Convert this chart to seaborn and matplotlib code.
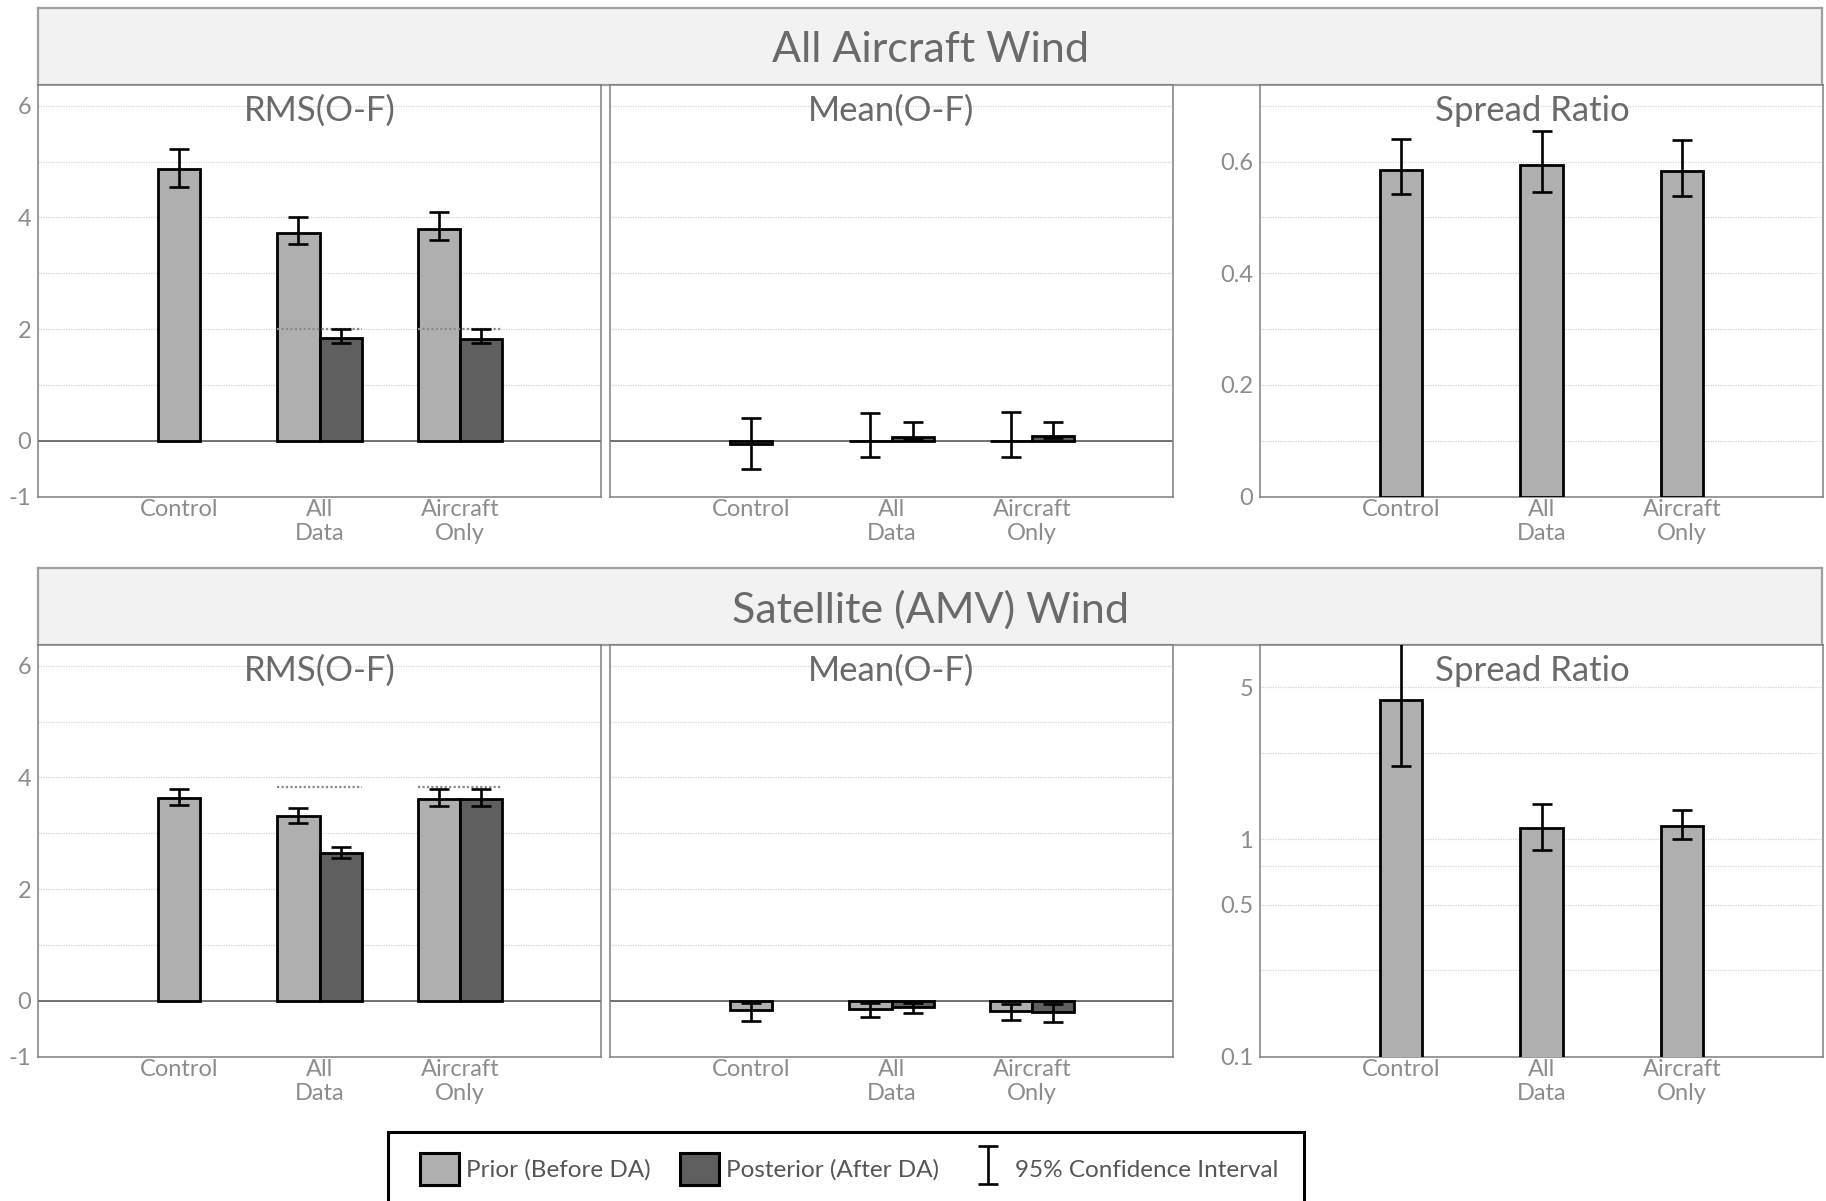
import numpy as np
import pandas as pd
import matplotlib
matplotlib.use("Agg")
import matplotlib.pyplot as plt
import seaborn as sns
from matplotlib.patches import Patch, Rectangle
from matplotlib.container import ErrorbarContainer
from matplotlib.legend_handler import HandlerErrorbar

sns.set_theme(style="white")
plt.rcParams['font.family'] = ['Lato', 'DejaVu Sans']

nan = np.nan
categories = ['Control', 'All Data', 'Aircraft Only']
cat_labels = ['Control', 'All\nData', 'Aircraft\nOnly']
stages = ['Prior (Before DA)', 'Posterior (After DA)']
ci_label = '95% Confidence Interval'
row_titles = ['All Aircraft Wind', 'Satellite (AMV) Wind']
panel_titles = ['RMS(O-F)', 'Mean(O-F)', 'Spread Ratio']

# ---- All Aircraft Wind ----
air_rms_prior = [4.86, 3.72, 3.80]
air_rms_prior_lo = [4.54, 3.53, 3.59]
air_rms_prior_hi = [5.22, 4.01, 4.10]
air_rms_post = [nan, 1.84, 1.83]
air_rms_post_lo = [nan, 1.75, 1.75]
air_rms_post_hi = [nan, 2.00, 2.00]
air_rms_ref = [nan, 2.00, 2.00]

air_mean_prior = [-0.06, 0.0, 0.0]
air_mean_prior_lo = [-0.50, -0.29, -0.29]
air_mean_prior_hi = [0.40, 0.50, 0.51]
air_mean_post = [nan, 0.07, 0.08]
air_mean_post_lo = [nan, 0.04, 0.05]
air_mean_post_hi = [nan, 0.33, 0.34]

air_spread = [0.584, 0.593, 0.583]
air_spread_lo = [0.542, 0.546, 0.539]
air_spread_hi = [0.640, 0.654, 0.638]

# ---- Satellite (AMV) Wind ----
sat_rms_prior = [3.63, 3.30, 3.61]
sat_rms_prior_lo = [3.51, 3.18, 3.48]
sat_rms_prior_hi = [3.79, 3.46, 3.80]
sat_rms_post = [nan, 2.65, 3.61]
sat_rms_post_lo = [nan, 2.56, 3.49]
sat_rms_post_hi = [nan, 2.75, 3.79]
sat_rms_ref = [nan, 3.83, 3.83]

sat_mean_prior = [-0.16, -0.14, -0.19]
sat_mean_prior_lo = [-0.36, -0.29, -0.35]
sat_mean_prior_hi = [-0.03, -0.03, -0.05]
sat_mean_post = [nan, -0.11, -0.20]
sat_mean_post_lo = [nan, -0.22, -0.37]
sat_mean_post_hi = [nan, -0.03, -0.05]

sat_spread = [4.35, 1.12, 1.15]
sat_spread_lo = [2.17, 0.89, 1.00]
sat_spread_hi = [9.5, 1.45, 1.36]

# ---- ticks ----
rms_ticks = [-1, 0, 1, 2, 3, 4, 5, 6]
rms_ticklabels = ['-1', '0', '', '2', '', '4', '', '6']
spread_air_ticks = [0, 0.1, 0.2, 0.3, 0.4, 0.5, 0.6, 0.7]
spread_air_ticklabels = ['0', '', '0.2', '', '0.4', '', '0.6', '']
spread_sat_ticks = [0.1, 0.25, 0.5, 0.75, 1, 2.5, 5]
spread_sat_ticklabels = ['0.1', '', '0.5', '', '1', '', '5']

COL = {stages[0]: '#afafaf', stages[1]: '#5f5f5f'}
TITLE_C = '#6a6a6a'
TICK_C = '#8c8c8c'
SPINE_C = '#7f7f7f'
W, H = 1826, 1201


def make_df(prior, plo, phi, post=None, qlo=None, qhi=None):
    rows = []
    for i, c in enumerate(categories):
        rows.append(dict(cat=c, stage=stages[0], val=prior[i], lo=plo[i], hi=phi[i]))
        if post is not None and not np.isnan(post[i]):
            rows.append(dict(cat=c, stage=stages[1], val=post[i], lo=qlo[i], hi=qhi[i]))
    return pd.DataFrame(rows)


err_handle = []


def draw_panel(ax, df, ref=None):
    counts = df.groupby('cat')['stage'].nunique()
    single = df[df['cat'].map(counts) == 1]
    paired = df[df['cat'].map(counts) == 2]
    kw = dict(edgecolor='black', linewidth=2, errorbar=None, saturation=1, ax=ax, zorder=3)
    if len(single):
        sns.barplot(data=single, x='cat', y='val', order=categories,
                    color=COL[stages[0]], width=0.3, **kw)
    if len(paired):
        sns.barplot(data=paired, x='cat', y='val', hue='stage', hue_order=stages,
                    order=categories, palette=COL, width=0.6, legend=False, **kw)
    spans = {}
    for r in ax.patches:
        cx = r.get_x() + r.get_width() / 2
        idx = int(round(cx))
        off = cx - idx
        stage = stages[1] if off > 0.01 else stages[0]
        row = df[(df['cat'] == categories[idx]) & (df['stage'] == stage)].iloc[0]
        v = row['val']
        e = ax.errorbar(cx, v, yerr=[[v - row['lo']], [row['hi'] - v]], fmt='none',
                        ecolor='black', elinewidth=1.9, capsize=7.4, capthick=1.9, zorder=5)
        if not err_handle:
            err_handle.append(e)
        lo_x, hi_x = spans.get(idx, (np.inf, -np.inf))
        spans[idx] = (min(lo_x, r.get_x()), max(hi_x, r.get_x() + r.get_width()))
    if ref is not None:
        for i, rv in enumerate(ref):
            if not np.isnan(rv):
                ax.hlines(rv, spans[i][0], spans[i][1], colors='#8a8a8a',
                          linestyles=(0, (1, 1)), linewidth=1.6, zorder=4)
    ax.set_xlabel('')
    ax.set_ylabel('')


def style_axes(ax, title, ticks, ticklabels, ylim, show_labels=True, zero=True,
               log=False, title_x=0.5):
    if log:
        ax.set_yscale('log')
        ax.minorticks_off()
    ax.set_ylim(*ylim)
    ax.set_xlim(-1, 3)
    ax.set_yticks(ticks)
    ax.set_yticklabels(ticklabels if show_labels else [''] * len(ticks))
    ax.set_xticks(range(len(categories)))
    ax.set_xticklabels(cat_labels, linespacing=1.12)
    ax.tick_params(axis='both', length=0, labelsize=17, labelcolor=TICK_C)
    ax.tick_params(axis='y', pad=5)
    ax.tick_params(axis='x', pad=2)
    ax.yaxis.grid(True, color='#d4d4d4', linestyle=(0, (1, 1)), linewidth=0.9)
    ax.xaxis.grid(False)
    ax.set_axisbelow(True)
    for s in ax.spines.values():
        s.set_color(SPINE_C)
        s.set_linewidth(1.1)
        s.set_visible(True)
    if zero:
        ax.axhline(0, color='#5a5a5a', linewidth=1.2, zorder=2)
    ax.text(title_x, 1 - 26 / 411, title, transform=ax.transAxes, ha='center', va='center',
            fontsize=25, color=TITLE_C, zorder=6)


fig = plt.figure(figsize=(W / 100, H / 100), dpi=100)
fig.patch.set_facecolor('white')

col_x = [38 / W, 610 / W, 1260 / W]
col_w = 563 / W
row_bottom = [1 - 496.7 / H, 1 - 1056.7 / H]
row_h = 411.7 / H
head_bottom = [1 - 85 / H, 1 - 645 / H]
head_h = 77 / H

datasets = [
    dict(rms=make_df(air_rms_prior, air_rms_prior_lo, air_rms_prior_hi,
                     air_rms_post, air_rms_post_lo, air_rms_post_hi),
         rms_ref=air_rms_ref,
         mean=make_df(air_mean_prior, air_mean_prior_lo, air_mean_prior_hi,
                      air_mean_post, air_mean_post_lo, air_mean_post_hi),
         spread=make_df(air_spread, air_spread_lo, air_spread_hi),
         sp_ticks=spread_air_ticks, sp_labels=spread_air_ticklabels,
         sp_ylim=(0, 0.737), sp_log=False),
    dict(rms=make_df(sat_rms_prior, sat_rms_prior_lo, sat_rms_prior_hi,
                     sat_rms_post, sat_rms_post_lo, sat_rms_post_hi),
         rms_ref=sat_rms_ref,
         mean=make_df(sat_mean_prior, sat_mean_prior_lo, sat_mean_prior_hi,
                      sat_mean_post, sat_mean_post_lo, sat_mean_post_hi),
         spread=make_df(sat_spread, sat_spread_lo, sat_spread_hi),
         sp_ticks=spread_sat_ticks, sp_labels=spread_sat_ticklabels,
         sp_ylim=(0.1, 7.8), sp_log=True),
]

for r, d in enumerate(datasets):
    hax = fig.add_axes([38 / W, head_bottom[r], 1784 / W, head_h])
    hax.set_facecolor('#f2f2f2')
    hax.set_xticks([])
    hax.set_yticks([])
    for s in hax.spines.values():
        s.set_color('#a0a0a0')
        s.set_linewidth(1.6)
    hax.text(0.5, 0.45, row_titles[r], ha='center', va='center', fontsize=31,
             color=TITLE_C, transform=hax.transAxes)

    ax1 = fig.add_axes([col_x[0], row_bottom[r], col_w, row_h])
    draw_panel(ax1, d['rms'], d['rms_ref'])
    style_axes(ax1, panel_titles[0], rms_ticks, rms_ticklabels, (-1, 6.37))

    ax2 = fig.add_axes([col_x[1], row_bottom[r], col_w, row_h])
    draw_panel(ax2, d['mean'])
    style_axes(ax2, panel_titles[1], rms_ticks, rms_ticklabels, (-1, 6.37), show_labels=False)

    ax3 = fig.add_axes([col_x[2], row_bottom[r], col_w, row_h])
    draw_panel(ax3, d['spread'])
    style_axes(ax3, panel_titles[2], d['sp_ticks'], d['sp_labels'], d['sp_ylim'],
               zero=False, log=d['sp_log'], title_x=0.484)

# legend
fig.patches.append(Rectangle((388 / W, -0.02), 916 / W, (1201 - 1132) / H + 0.02,
                             transform=fig.transFigure, fill=False, edgecolor='black',
                             linewidth=2.2, zorder=10))
handles = [Patch(facecolor=COL[stages[0]], edgecolor='black', linewidth=2.2),
           Patch(facecolor=COL[stages[1]], edgecolor='black', linewidth=2.2),
           err_handle[0]]
fig.legend(handles=handles, labels=[stages[0], stages[1], ci_label], loc='center',
           bbox_to_anchor=(849 / W, 1 - 1169 / H), ncol=3, frameon=False,
           fontsize=17.5, handlelength=1.6, handleheight=1.6, handletextpad=0.3,
           columnspacing=1.2, labelcolor='#555555',
           handler_map={ErrorbarContainer: HandlerErrorbar(yerr_size=0.78)})

fig.savefig('out.png', dpi=100, facecolor='white')
